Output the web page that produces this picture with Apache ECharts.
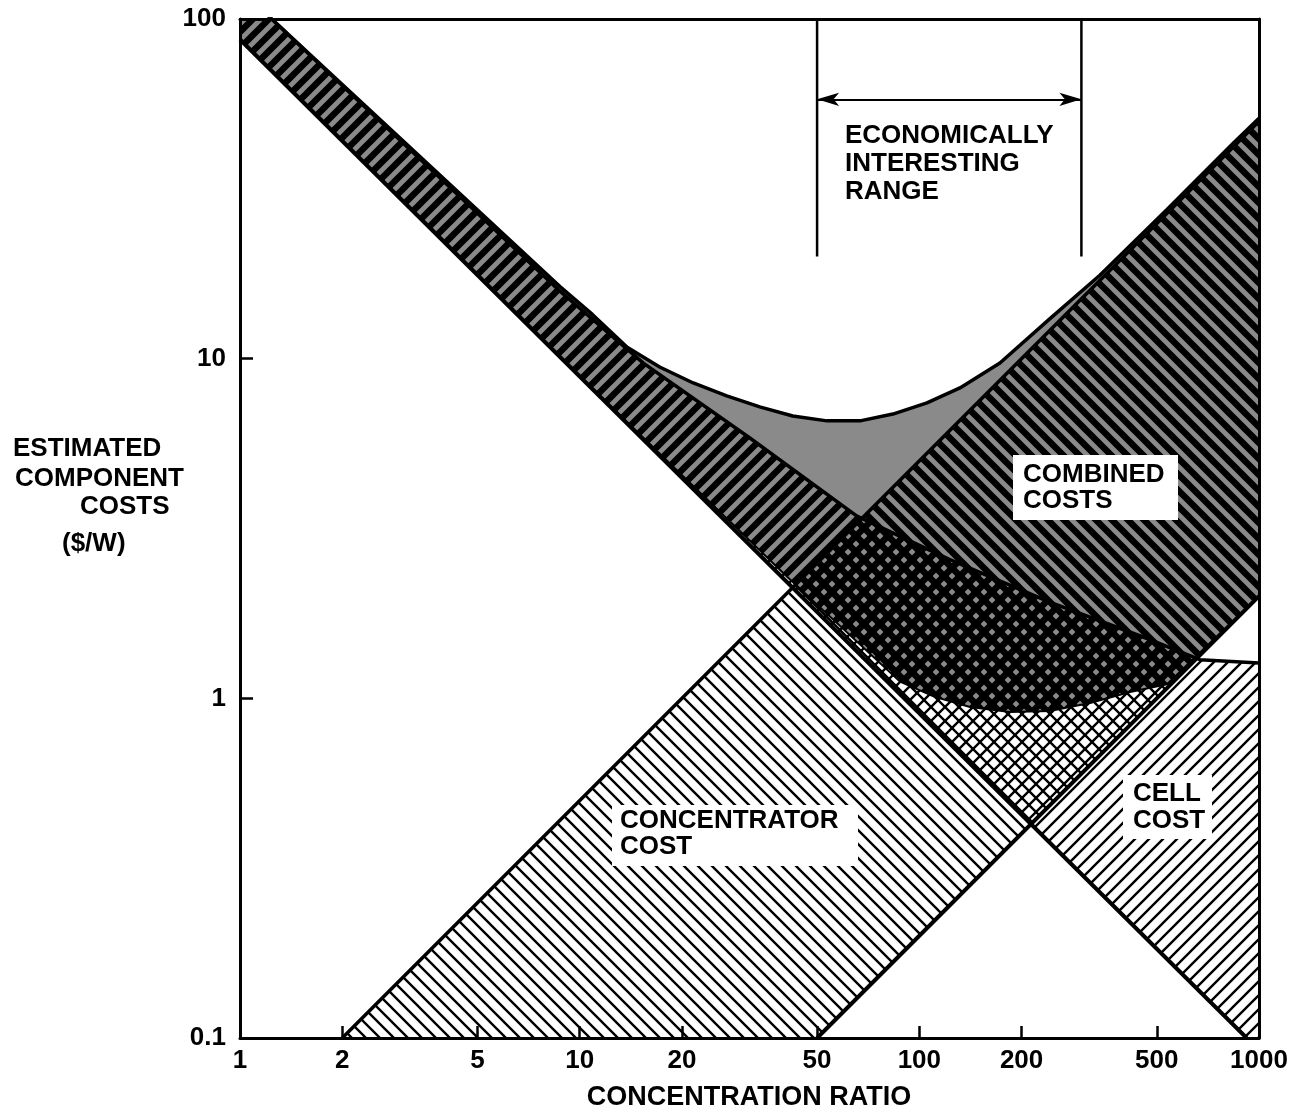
<!DOCTYPE html>
<html>
<head>
<meta charset="utf-8">
<title>Estimated component costs vs concentration ratio</title>
<script src="https://cdn.jsdelivr.net/npm/echarts@6/dist/echarts.min.js"></script>
<style>
  html, body { margin: 0; padding: 0; background: #fff; }
  #chart { width: 1310px; height: 1119px; }
</style>
</head>
<body>
<div id="chart"></div>
<script>
// tick labels
const xTicks = [1, 2, 5, 10, 20, 50, 100, 200, 500, 1000]
const yTicks = [0.1, 1, 10, 100]

// band edges, [concentration ratio, $/W]
const concUpper = [[2, 0.1], [1000, 50]]
const concLower = [[50, 0.1], [1000, 2]]

const cellLower = [[1, 87], [920, 0.1]]
const cellUpper = [[1, 122], [1.24, 100], [8.75, 15.8], [15.4, 9.7], [31.7, 5.84], [65.5, 3.44],
  [123, 2.56], [242, 1.92], [477, 1.49], [670, 1.30], [1000, 1.27]]

const combinedUpper = [[1, 122], [1.24, 100], [8.75, 16.3], [10.9, 13.5], [13.8, 10.8], [17.2, 9.45],
  [21.6, 8.48], [27.1, 7.77], [33.9, 7.21], [42.4, 6.78], [53.5, 6.56], [66.9, 6.56], [83.6, 6.87],
  [105.3, 7.41], [131.7, 8.2], [172.7, 9.71], [242, 13.1], [340, 17.6], [536, 27.5], [838, 43], [1000, 51]]
const combinedLower = [[1, 87], [11.5, 7.75], [40.8, 2.28], [87.7, 1.12], [111, 1.01], [141, 0.943],
  [185, 0.912], [242, 0.918], [318, 0.969], [417, 1.044], [536, 1.10], [1000, 2.0]]

// economically interesting range
const rangeX = [50, 300]
const rangeY = [20, 100]
const rangeArrowY = 58

const FONT = '"Liberation Sans", Arial, Helvetica, sans-serif'
const L10 = Math.log10

// ---- geometry helpers (work in log space, where the axes are linear) ----
const toLog = pts => pts.map(p => [L10(p[0]), L10(p[1])])

function valueAt(curve, u) {
  const n = curve.length
  if (u < curve[0][0] - 1e-9 || u > curve[n - 1][0] + 1e-9) return null
  for (let i = 0; i < n - 1; i++) {
    const a = curve[i], b = curve[i + 1]
    if (u <= b[0] + 1e-9) {
      const t = b[0] === a[0] ? 0 : (u - a[0]) / (b[0] - a[0])
      return a[1] + Math.max(0, Math.min(1, t)) * (b[1] - a[1])
    }
  }
  return curve[n - 1][1]
}

// region between max(lows) and min(highs), as polygons in data space
function bandPolygons(u0, u1, lows, highs) {
  const floor = [[u0, -1], [u1, -1]]
  const ceil = [[u0, 2], [u1, 2]]
  const lo = lows.concat([floor])
  const hi = highs.concat([ceil])
  const all = lo.concat(hi)
  let us = [u0, u1]
  all.forEach(c => c.forEach(p => { if (p[0] > u0 && p[0] < u1) us.push(p[0]) }))
  us.sort((a, b) => a - b)
  us = us.filter((u, i) => i === 0 || u - us[i - 1] > 1e-9)
  const extra = []
  for (let i = 0; i < us.length - 1; i++) {
    const ua = us[i], ub = us[i + 1], mid = (ua + ub) / 2
    const live = all.filter(c => valueAt(c, mid) !== null)
    for (let j = 0; j < live.length; j++) {
      for (let k = j + 1; k < live.length; k++) {
        const da = valueAt(live[j], ua) - valueAt(live[k], ua)
        const db = valueAt(live[j], ub) - valueAt(live[k], ub)
        if (da * db < 0) extra.push(ua + (ub - ua) * da / (da - db))
      }
    }
  }
  us = us.concat(extra).sort((a, b) => a - b).filter((u, i, arr) => i === 0 || u - arr[i - 1] > 1e-9)
  const lowAt = u => Math.max(...lo.map(c => valueAt(c, u)).filter(v => v !== null))
  const highAt = u => Math.min(...hi.map(c => valueAt(c, u)).filter(v => v !== null))
  const pts = us.map(u => ({ u, lo: lowAt(u), hi: highAt(u) }))
  const polys = []
  let run = []
  const flush = () => {
    if (run.length > 1 && run.some(p => p.hi - p.lo > 1e-9)) {
      const top = run.map(p => [p.u, p.hi])
      const bot = run.slice().reverse().map(p => [p.u, p.lo])
      polys.push(top.concat(bot).map(p => [Math.pow(10, p[0]), Math.pow(10, p[1])]))
    }
    run = []
  }
  pts.forEach(p => {
    if (p.hi - p.lo >= -1e-9) run.push(p)
    else flush()
  })
  flush()
  return polys
}

// ---- hatch fills ----
function hatch(period, width, dir) {
  const c = document.createElement('canvas')
  c.width = c.height = period
  const ctx = c.getContext('2d')
  ctx.strokeStyle = '#000'
  ctx.lineWidth = width
  ctx.beginPath()
  for (let k = -2; k <= 2; k++) {
    if (dir === 'back') {
      ctx.moveTo(k * period - period, -period)
      ctx.lineTo(k * period + 2 * period, 2 * period)
    } else {
      ctx.moveTo(k * period - period, 2 * period)
      ctx.lineTo(k * period + 2 * period, -period)
    }
  }
  ctx.stroke()
  return { image: c, repeat: 'repeat' }
}

const thinBack = hatch(14, 2.4, 'back')
const thinFwd = hatch(14, 2.4, 'fwd')
const thickBack = hatch(16, 6.5, 'back')
const thickFwd = hatch(16, 6.5, 'fwd')

const A = toLog(concUpper), B = toLog(concLower)
const C = toLog(cellLower), Cu = toLog(cellUpper)
const U = toLog(combinedUpper), Lo = toLog(combinedLower)

const regions = [
  { name: 'concentrator', polys: bandPolygons(L10(2), 3, [B], [A]), fill: thinBack },
  { name: 'cell', polys: bandPolygons(0, 3, [C], [Cu]), fill: thinFwd },
  { name: 'combined', polys: bandPolygons(0, 3, [Lo], [U]), fill: '#8a8a8a' },
  { name: 'combined-concentrator', polys: bandPolygons(L10(2), 3, [B, Lo], [A, U]), fill: thickBack },
  { name: 'combined-cell', polys: bandPolygons(0, 3, [C, Lo], [Cu, U]), fill: thickFwd }
]

const regionSeries = regions.map(r => ({
  name: r.name,
  type: 'custom',
  clip: true,
  silent: true,
  z: 2,
  data: r.polys.map(() => [1, 1]),
  renderItem: (params, api) => ({
    type: 'polygon',
    shape: { points: r.polys[params.dataIndex].map(p => api.coord(p)) },
    style: { fill: r.fill, stroke: null }
  })
}))

const edge = (name, pts, width) => ({
  name, type: 'line', data: pts, symbol: 'none', showSymbol: false, silent: true, z: 4,
  lineStyle: { color: '#000', width }
})

const fmt = v => String(+(+v).toPrecision(6))

const axisBase = {
  type: 'log', logBase: 10, z: 5,
  axisLine: { show: true, onZero: false, lineStyle: { color: '#000', width: 3 } },
  splitLine: { show: false },
  minorTick: { show: false },
  minorSplitLine: { show: false }
}

const tickLabel = { color: '#000', fontSize: 26, fontWeight: 'bold', fontFamily: FONT, formatter: fmt,
  showMinLabel: true, showMaxLabel: true, hideOverlap: false }

const txt = (x, y, text, size, extra) => Object.assign({
  type: 'text', x, y, z: 100, silent: true,
  style: Object.assign({
    text, font: 'bold ' + (size || 26) + 'px ' + FONT, fill: '#000',
    textAlign: 'left', textVerticalAlign: 'top', align: 'left', verticalAlign: 'top', lineHeight: 28
  }, extra || {})
})

const box = (x, y, w, h) => ({ type: 'rect', z: 99, silent: true, shape: { x, y, width: w, height: h }, style: { fill: '#fff' } })

const option = {
  animation: false,
  backgroundColor: '#fff',
  textStyle: { fontFamily: FONT },
  grid: { left: 240, right: 51, top: 19, bottom: 81 },
  xAxis: [
    Object.assign({}, axisBase, {
      min: 1, max: 1000, position: 'bottom',
      axisTick: { show: true, inside: true, length: 12, customValues: xTicks, lineStyle: { color: '#000', width: 2.5 } },
      axisLabel: Object.assign({ customValues: xTicks, margin: 10 }, tickLabel)
    }),
    Object.assign({}, axisBase, {
      min: 1, max: 1000, position: 'top',
      axisTick: { show: false }, axisLabel: { show: false }
    })
  ],
  yAxis: [
    Object.assign({}, axisBase, {
      min: 0.1, max: 100, position: 'left',
      axisTick: { show: true, inside: true, length: 13, customValues: yTicks, lineStyle: { color: '#000', width: 2.5 } },
      axisLabel: Object.assign({ customValues: yTicks, margin: 14 }, tickLabel)
    }),
    Object.assign({}, axisBase, {
      min: 0.1, max: 100, position: 'right',
      axisTick: { show: false }, axisLabel: { show: false }
    })
  ],
  series: regionSeries.concat([
    edge('combined lower', combinedLower, 2),
    edge('cell upper', cellUpper, 3.5),
    edge('concentrator upper', concUpper, 3.5),
    edge('concentrator lower', concLower, 4),
    edge('cell lower', cellLower, 4),
    edge('combined upper', combinedUpper, 3.5),
    edge('range low', [[rangeX[0], rangeY[1]], [rangeX[0], rangeY[0]]], 2.5),
    Object.assign(edge('range high', [[rangeX[1], rangeY[1]], [rangeX[1], rangeY[0]]], 2.5), {
      markLine: {
        silent: true, symbol: ['arrow', 'arrow'], symbolSize: [10, 22],
        label: { show: false },
        lineStyle: { color: '#000', width: 2, type: 'solid' },
        data: [[{ coord: [rangeX[0], rangeArrowY] }, { coord: [rangeX[1], rangeArrowY] }]]
      }
    })
  ]),
  graphic: [
    txt(845, 122, 'ECONOMICALLY\nINTERESTING\nRANGE', 26),
    box(1013, 455, 165, 65),
    txt(1023, 462, 'COMBINED\nCOSTS', 26, { lineHeight: 26 }),
    box(1123, 775, 89, 64),
    txt(1133, 780, 'CELL\nCOST', 26, { lineHeight: 27 }),
    box(612, 805, 246, 61),
    txt(620, 808, 'CONCENTRATOR\nCOST', 26, { lineHeight: 26 }),
    txt(13, 435, 'ESTIMATED', 26),
    txt(15, 465, 'COMPONENT', 26),
    txt(80, 493, 'COSTS', 26),
    txt(62, 530, '($/W)', 26),
    txt(749, 1084, 'CONCENTRATION RATIO', 27, { textAlign: 'center', align: 'center' })
  ]
}

const chart = echarts.init(document.getElementById('chart'))
chart.setOption(option)
window.addEventListener('resize', () => chart.resize())
</script>
</body>
</html>
